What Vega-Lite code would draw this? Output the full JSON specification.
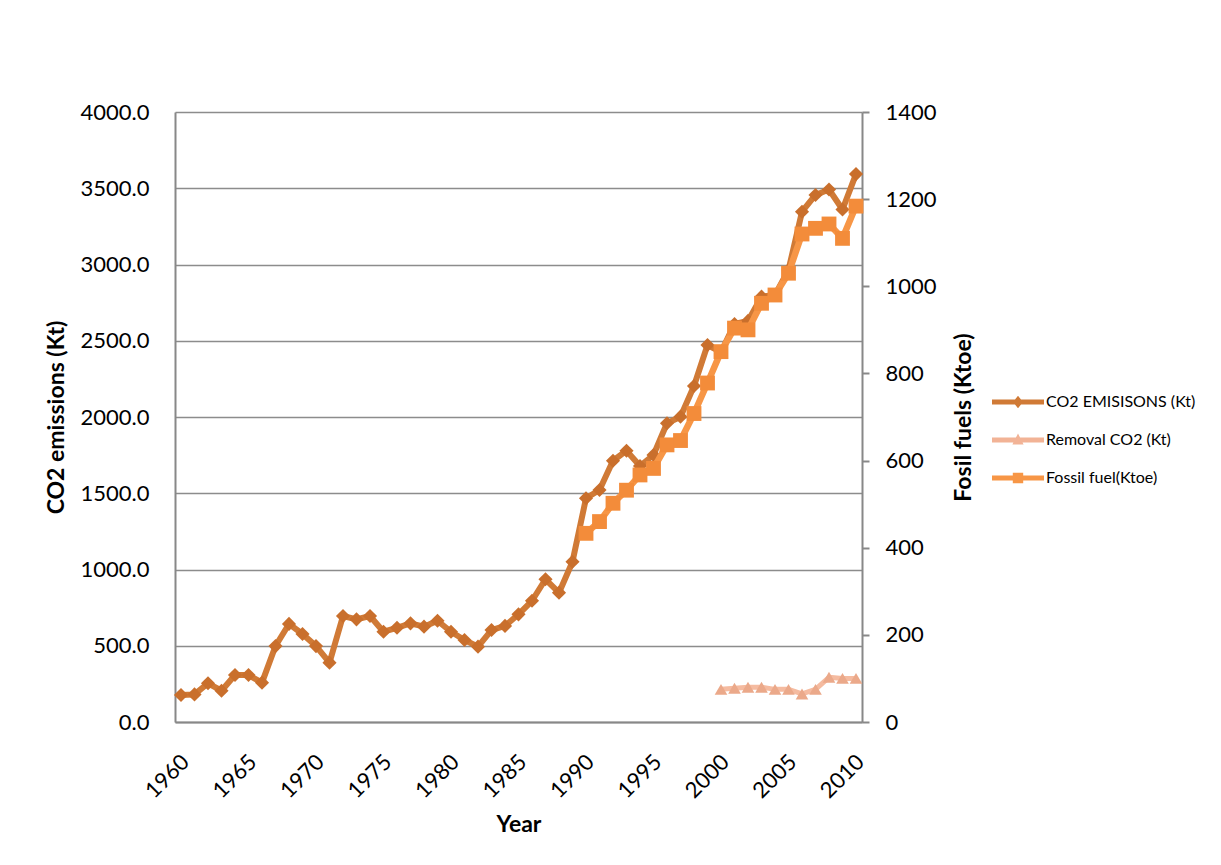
{
  "$schema": "https://vega.github.io/schema/vega-lite/v6.json",
  "width": 687,
  "height": 610,
  "autosize": {"type": "none"},
  "padding": {"left": 175, "top": 112, "right": 359, "bottom": 143},
  "background": "white",
  "data": {
    "values": [
      {"year": 1960, "series": "CO2 EMISISONS (Kt)", "value": 177},
      {"year": 1961, "series": "CO2 EMISISONS (Kt)", "value": 181},
      {"year": 1962, "series": "CO2 EMISISONS (Kt)", "value": 254},
      {"year": 1963, "series": "CO2 EMISISONS (Kt)", "value": 205},
      {"year": 1964, "series": "CO2 EMISISONS (Kt)", "value": 308},
      {"year": 1965, "series": "CO2 EMISISONS (Kt)", "value": 308},
      {"year": 1966, "series": "CO2 EMISISONS (Kt)", "value": 258},
      {"year": 1967, "series": "CO2 EMISISONS (Kt)", "value": 498},
      {"year": 1968, "series": "CO2 EMISISONS (Kt)", "value": 643},
      {"year": 1969, "series": "CO2 EMISISONS (Kt)", "value": 577},
      {"year": 1970, "series": "CO2 EMISISONS (Kt)", "value": 498},
      {"year": 1971, "series": "CO2 EMISISONS (Kt)", "value": 389},
      {"year": 1972, "series": "CO2 EMISISONS (Kt)", "value": 695},
      {"year": 1973, "series": "CO2 EMISISONS (Kt)", "value": 673},
      {"year": 1974, "series": "CO2 EMISISONS (Kt)", "value": 695},
      {"year": 1975, "series": "CO2 EMISISONS (Kt)", "value": 592},
      {"year": 1976, "series": "CO2 EMISISONS (Kt)", "value": 618},
      {"year": 1977, "series": "CO2 EMISISONS (Kt)", "value": 647},
      {"year": 1978, "series": "CO2 EMISISONS (Kt)", "value": 625},
      {"year": 1979, "series": "CO2 EMISISONS (Kt)", "value": 664},
      {"year": 1980, "series": "CO2 EMISISONS (Kt)", "value": 592},
      {"year": 1981, "series": "CO2 EMISISONS (Kt)", "value": 538},
      {"year": 1982, "series": "CO2 EMISISONS (Kt)", "value": 494},
      {"year": 1983, "series": "CO2 EMISISONS (Kt)", "value": 603},
      {"year": 1984, "series": "CO2 EMISISONS (Kt)", "value": 630},
      {"year": 1985, "series": "CO2 EMISISONS (Kt)", "value": 706},
      {"year": 1986, "series": "CO2 EMISISONS (Kt)", "value": 795},
      {"year": 1987, "series": "CO2 EMISISONS (Kt)", "value": 936},
      {"year": 1988, "series": "CO2 EMISISONS (Kt)", "value": 848},
      {"year": 1989, "series": "CO2 EMISISONS (Kt)", "value": 1051},
      {"year": 1990, "series": "CO2 EMISISONS (Kt)", "value": 1467},
      {"year": 1991, "series": "CO2 EMISISONS (Kt)", "value": 1521},
      {"year": 1992, "series": "CO2 EMISISONS (Kt)", "value": 1713},
      {"year": 1993, "series": "CO2 EMISISONS (Kt)", "value": 1779},
      {"year": 1994, "series": "CO2 EMISISONS (Kt)", "value": 1679},
      {"year": 1995, "series": "CO2 EMISISONS (Kt)", "value": 1751},
      {"year": 1996, "series": "CO2 EMISISONS (Kt)", "value": 1959},
      {"year": 1997, "series": "CO2 EMISISONS (Kt)", "value": 2002},
      {"year": 1998, "series": "CO2 EMISISONS (Kt)", "value": 2203},
      {"year": 1999, "series": "CO2 EMISISONS (Kt)", "value": 2472},
      {"year": 2000, "series": "CO2 EMISISONS (Kt)", "value": 2426},
      {"year": 2001, "series": "CO2 EMISISONS (Kt)", "value": 2610},
      {"year": 2002, "series": "CO2 EMISISONS (Kt)", "value": 2630},
      {"year": 2003, "series": "CO2 EMISISONS (Kt)", "value": 2789},
      {"year": 2004, "series": "CO2 EMISISONS (Kt)", "value": 2800},
      {"year": 2005, "series": "CO2 EMISISONS (Kt)", "value": 2964},
      {"year": 2006, "series": "CO2 EMISISONS (Kt)", "value": 3346},
      {"year": 2007, "series": "CO2 EMISISONS (Kt)", "value": 3456},
      {"year": 2008, "series": "CO2 EMISISONS (Kt)", "value": 3492},
      {"year": 2009, "series": "CO2 EMISISONS (Kt)", "value": 3361},
      {"year": 2010, "series": "CO2 EMISISONS (Kt)", "value": 3593},
      {"year": 2000, "series": "Removal CO2 (Kt)", "value": 214},
      {"year": 2001, "series": "Removal CO2 (Kt)", "value": 221},
      {"year": 2002, "series": "Removal CO2 (Kt)", "value": 228},
      {"year": 2003, "series": "Removal CO2 (Kt)", "value": 228},
      {"year": 2004, "series": "Removal CO2 (Kt)", "value": 214},
      {"year": 2005, "series": "Removal CO2 (Kt)", "value": 214},
      {"year": 2006, "series": "Removal CO2 (Kt)", "value": 184},
      {"year": 2007, "series": "Removal CO2 (Kt)", "value": 214},
      {"year": 2008, "series": "Removal CO2 (Kt)", "value": 293},
      {"year": 2009, "series": "Removal CO2 (Kt)", "value": 286},
      {"year": 2010, "series": "Removal CO2 (Kt)", "value": 286},
      {"year": 1990, "series": "Fossil fuel(Ktoe)", "value": 433},
      {"year": 1991, "series": "Fossil fuel(Ktoe)", "value": 460},
      {"year": 1992, "series": "Fossil fuel(Ktoe)", "value": 502},
      {"year": 1993, "series": "Fossil fuel(Ktoe)", "value": 532},
      {"year": 1994, "series": "Fossil fuel(Ktoe)", "value": 567},
      {"year": 1995, "series": "Fossil fuel(Ktoe)", "value": 582},
      {"year": 1996, "series": "Fossil fuel(Ktoe)", "value": 636},
      {"year": 1997, "series": "Fossil fuel(Ktoe)", "value": 646},
      {"year": 1998, "series": "Fossil fuel(Ktoe)", "value": 708},
      {"year": 1999, "series": "Fossil fuel(Ktoe)", "value": 778},
      {"year": 2000, "series": "Fossil fuel(Ktoe)", "value": 850},
      {"year": 2001, "series": "Fossil fuel(Ktoe)", "value": 904},
      {"year": 2002, "series": "Fossil fuel(Ktoe)", "value": 900},
      {"year": 2003, "series": "Fossil fuel(Ktoe)", "value": 961},
      {"year": 2004, "series": "Fossil fuel(Ktoe)", "value": 980},
      {"year": 2005, "series": "Fossil fuel(Ktoe)", "value": 1030},
      {"year": 2006, "series": "Fossil fuel(Ktoe)", "value": 1120},
      {"year": 2007, "series": "Fossil fuel(Ktoe)", "value": 1133},
      {"year": 2008, "series": "Fossil fuel(Ktoe)", "value": 1143},
      {"year": 2009, "series": "Fossil fuel(Ktoe)", "value": 1110},
      {"year": 2010, "series": "Fossil fuel(Ktoe)", "value": 1184}
    ]
  },
  "encoding": {
    "x": {
      "field": "year",
      "type": "quantitative",
      "scale": {"domain": [1960, 2010], "nice": false, "zero": false, "padding": 6},
      "axis": {
        "title": "Year",
        "values": [1960, 1965, 1970, 1975, 1980, 1985, 1990, 1995, 2000, 2005, 2010],
        "format": "d",
        "labelAngle": -45,
        "labelAlign": "right",
        "labelBaseline": "middle",
        "labelPadding": 36,
        "labelOffset": 4,
        "ticks": false,
        "grid": false,
        "titlePadding": 12
      }
    }
  },
  "layer": [
    {
      "encoding": {
        "y": {
          "field": "value",
          "type": "quantitative",
          "scale": {"domain": [0, 4000], "nice": false},
          "axis": {
            "title": "CO2 emissions (Kt)",
            "orient": "left",
            "values": [0, 500, 1000, 1500, 2000, 2500, 3000, 3500, 4000],
            "format": ".1f",
            "ticks": false,
            "labelPadding": 26,
            "grid": true,
            "titlePadding": 12
          }
        }
      },
      "layer": [
        {
          "transform": [{"filter": "datum.series === 'CO2 EMISISONS (Kt)'"}],
          "mark": {"type": "line", "strokeWidth": 6, "strokeJoin": "round", "color": "#D07A36"}
        },
        {
          "transform": [{"filter": "datum.series === 'CO2 EMISISONS (Kt)'"}],
          "mark": {"type": "point", "shape": "diamond", "filled": true, "opacity": 1, "size": 200, "color": "#C96F2C"}
        },
        {
          "transform": [{"filter": "datum.series === 'Removal CO2 (Kt)'"}],
          "mark": {"type": "line", "strokeWidth": 5, "strokeJoin": "round", "color": "#F5BBA0"}
        },
        {
          "transform": [{"filter": "datum.series === 'Removal CO2 (Kt)'"}],
          "mark": {"type": "point", "shape": "triangle-up", "filled": true, "opacity": 1, "size": 160, "color": "#EBA98A"}
        }
      ]
    },
    {
      "transform": [{"filter": "datum.series === 'Fossil fuel(Ktoe)'"}],
      "encoding": {
        "y": {
          "field": "value",
          "type": "quantitative",
          "scale": {"domain": [0, 1400], "nice": false},
          "axis": {
            "title": "Fosil fuels (Ktoe)",
            "orient": "right",
            "values": [0, 200, 400, 600, 800, 1000, 1200, 1400],
            "format": "d",
            "ticks": true,
            "tickSize": 7,
            "tickColor": "#888888",
            "tickWidth": 2,
            "labelPadding": 16,
            "grid": false,
            "titleAngle": 270,
            "titlePadding": 39
          }
        }
      },
      "layer": [
        {"mark": {"type": "line", "strokeWidth": 6.5, "strokeJoin": "round", "color": "#F79646"}},
        {"mark": {"type": "point", "shape": "square", "filled": true, "opacity": 1, "size": 220, "color": "#F38C3A"}}
      ]
    },
    {
      "transform": [{"filter": "datum.year < 0"}],
      "mark": {"type": "point", "filled": true, "opacity": 1},
      "encoding": {
        "color": {
          "field": "series",
          "type": "nominal",
          "scale": {
            "domain": ["CO2 EMISISONS (Kt)", "Removal CO2 (Kt)", "Fossil fuel(Ktoe)"],
            "range": ["#D07A36", "#F2B396", "#F79646"]
          },
          "legend": {
            "title": null,
            "orient": "none",
            "legendX": 833,
            "legendY": 280,
            "padding": 0,
            "labelFont": "Lato",
            "labelFontSize": 16,
            "labelColor": "#000000",
            "labelOffset": 18,
            "rowPadding": 20,
            "symbolSize": 400,
            "symbolStrokeWidth": 0
          }
        },
        "shape": {
          "field": "series",
          "type": "nominal",
          "scale": {
            "domain": ["CO2 EMISISONS (Kt)", "Removal CO2 (Kt)", "Fossil fuel(Ktoe)"],
            "range": [
              "M-2.6,-0.24H2.6V0.24H-2.6Z M0,-0.62L0.5,0L0,0.62L-0.5,0Z",
              "M-2.6,-0.24H2.6V0.24H-2.6Z M0,-0.64L0.56,0.46L-0.56,0.46Z",
              "M-2.6,-0.24H2.6V0.24H-2.6Z M-0.52,-0.52H0.52V0.52H-0.52Z"
            ]
          },
          "legend": {
            "title": null,
            "orient": "none",
            "legendX": 833,
            "legendY": 280,
            "padding": 0,
            "labelFont": "Lato",
            "labelFontSize": 16,
            "labelColor": "#000000",
            "labelOffset": 18,
            "rowPadding": 20,
            "symbolSize": 400,
            "symbolStrokeWidth": 0
          }
        }
      }
    }
  ],
  "resolve": {"scale": {"y": "independent"}},
  "config": {
    "view": {"stroke": null},
    "axis": {
      "labelFont": "Lato",
      "labelFontSize": 22,
      "labelColor": "#000000",
      "titleFont": "Lato",
      "titleFontSize": 23,
      "titleFontWeight": "bold",
      "titleColor": "#000000",
      "domainColor": "#888888",
      "domainWidth": 2,
      "gridColor": "#8C8C8C",
      "gridWidth": 1.5
    }
  }
}
